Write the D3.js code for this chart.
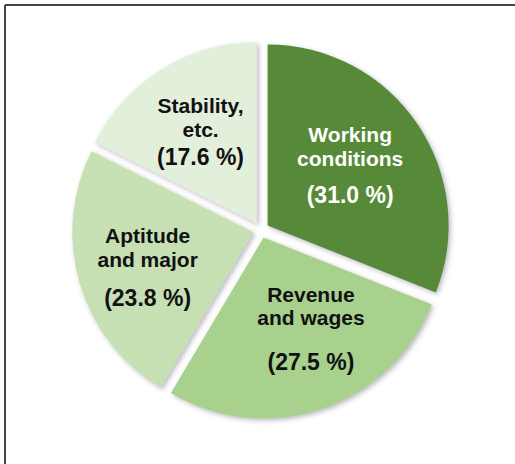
<!DOCTYPE html>
<html>
<head>
<meta charset="utf-8">
<script src="https://cdn.jsdelivr.net/npm/d3@7"></script>
<style>
  html, body { margin: 0; padding: 0; background: #ffffff; }
  svg { display: block; }
</style>
</head>
<body>
<script>
// ---- data ----
const categories = ["Working conditions", "Revenue and wages", "Aptitude and major", "Stability, etc."];
const values = [31.0, 27.5, 23.8, 17.6];
const nameLines = [["Working", "conditions"], ["Revenue", "and wages"], ["Aptitude", "and major"], ["Stability,", "etc."]];
const pctLabels = ["(31.0 %)", "(27.5 %)", "(23.8 %)", "(17.6 %)"];
const colors = ["#578a37", "#a9d18e", "#c6e0b4", "#e2efda"];
const textColors = ["#ffffff", "#111111", "#111111", "#111111"];

// ---- layout ----
const W = 515, H = 464;
const cx = 261, cy = 230, R = 181, explode = 8;

const svg = d3.select("body").append("svg")
  .attr("width", W).attr("height", H);

const defs = svg.append("defs");
const f = defs.append("filter").attr("id", "shadow")
  .attr("x", "-20%").attr("y", "-20%").attr("width", "140%").attr("height", "140%");
f.append("feDropShadow").attr("dx", 2).attr("dy", 2).attr("stdDeviation", 2.5)
  .attr("flood-color", "#6a6478").attr("flood-opacity", 0.45);

// frame (top + left lines)
svg.append("line").attr("x1", 5).attr("y1", 5).attr("x2", W).attr("y2", 5)
  .attr("stroke", "#444").attr("stroke-width", 2);
svg.append("line").attr("x1", 5).attr("y1", 5).attr("x2", 5).attr("y2", H)
  .attr("stroke", "#444").attr("stroke-width", 2);

const pie = d3.pie().sort(null).value(d => d).startAngle(0).endAngle(2 * Math.PI);
const arcs = pie(values);
const arc = d3.arc().innerRadius(0).outerRadius(R);

const g = svg.append("g").attr("transform", `translate(${cx},${cy})`);

function dir(a) { return [Math.sin(a), -Math.cos(a)]; }

g.selectAll("path.slice").data(arcs).enter().append("path")
  .attr("class", "slice")
  .attr("d", arc)
  .attr("fill", (d, i) => colors[i])
  .attr("filter", "url(#shadow)")
  .attr("transform", d => {
    const m = (d.startAngle + d.endAngle) / 2;
    const [ux, uy] = dir(m);
    return `translate(${ux * explode},${uy * explode})`;
  });

// label placement (layout constants)
const labelR = 115;
const nudge = [[-6, -1], [13, -11], [-3, 4], [0, -1]];
const pctGap = [37, 45, 39, 28];
const lineH = 23.5;

arcs.forEach((d, i) => {
  const m = (d.startAngle + d.endAngle) / 2;
  const [ux, uy] = dir(m);
  const bx = ux * labelR + nudge[i][0];
  const by = uy * labelR + nudge[i][1];
  const lines = nameLines[i];
  const total = 16 + lineH * (lines.length - 1) + pctGap[i];
  const b1 = by - total / 2 + 16;
  const t = g.append("g").attr("fill", textColors[i])
    .style("font-family", "'Liberation Sans', Arial, sans-serif");
  lines.forEach((s, k) => {
    t.append("text").attr("x", bx).attr("y", b1 + k * lineH)
      .attr("text-anchor", "middle")
      .style("font-size", "21px")
      .style("font-weight", "bold")
      .text(s);
  });
  t.append("text").attr("x", bx).attr("y", b1 + lineH * (lines.length - 1) + pctGap[i])
    .attr("text-anchor", "middle")
    .style("font-size", "23px")
    .style("font-weight", "bold")
    .text(pctLabels[i]);
});
</script>
</body>
</html>
